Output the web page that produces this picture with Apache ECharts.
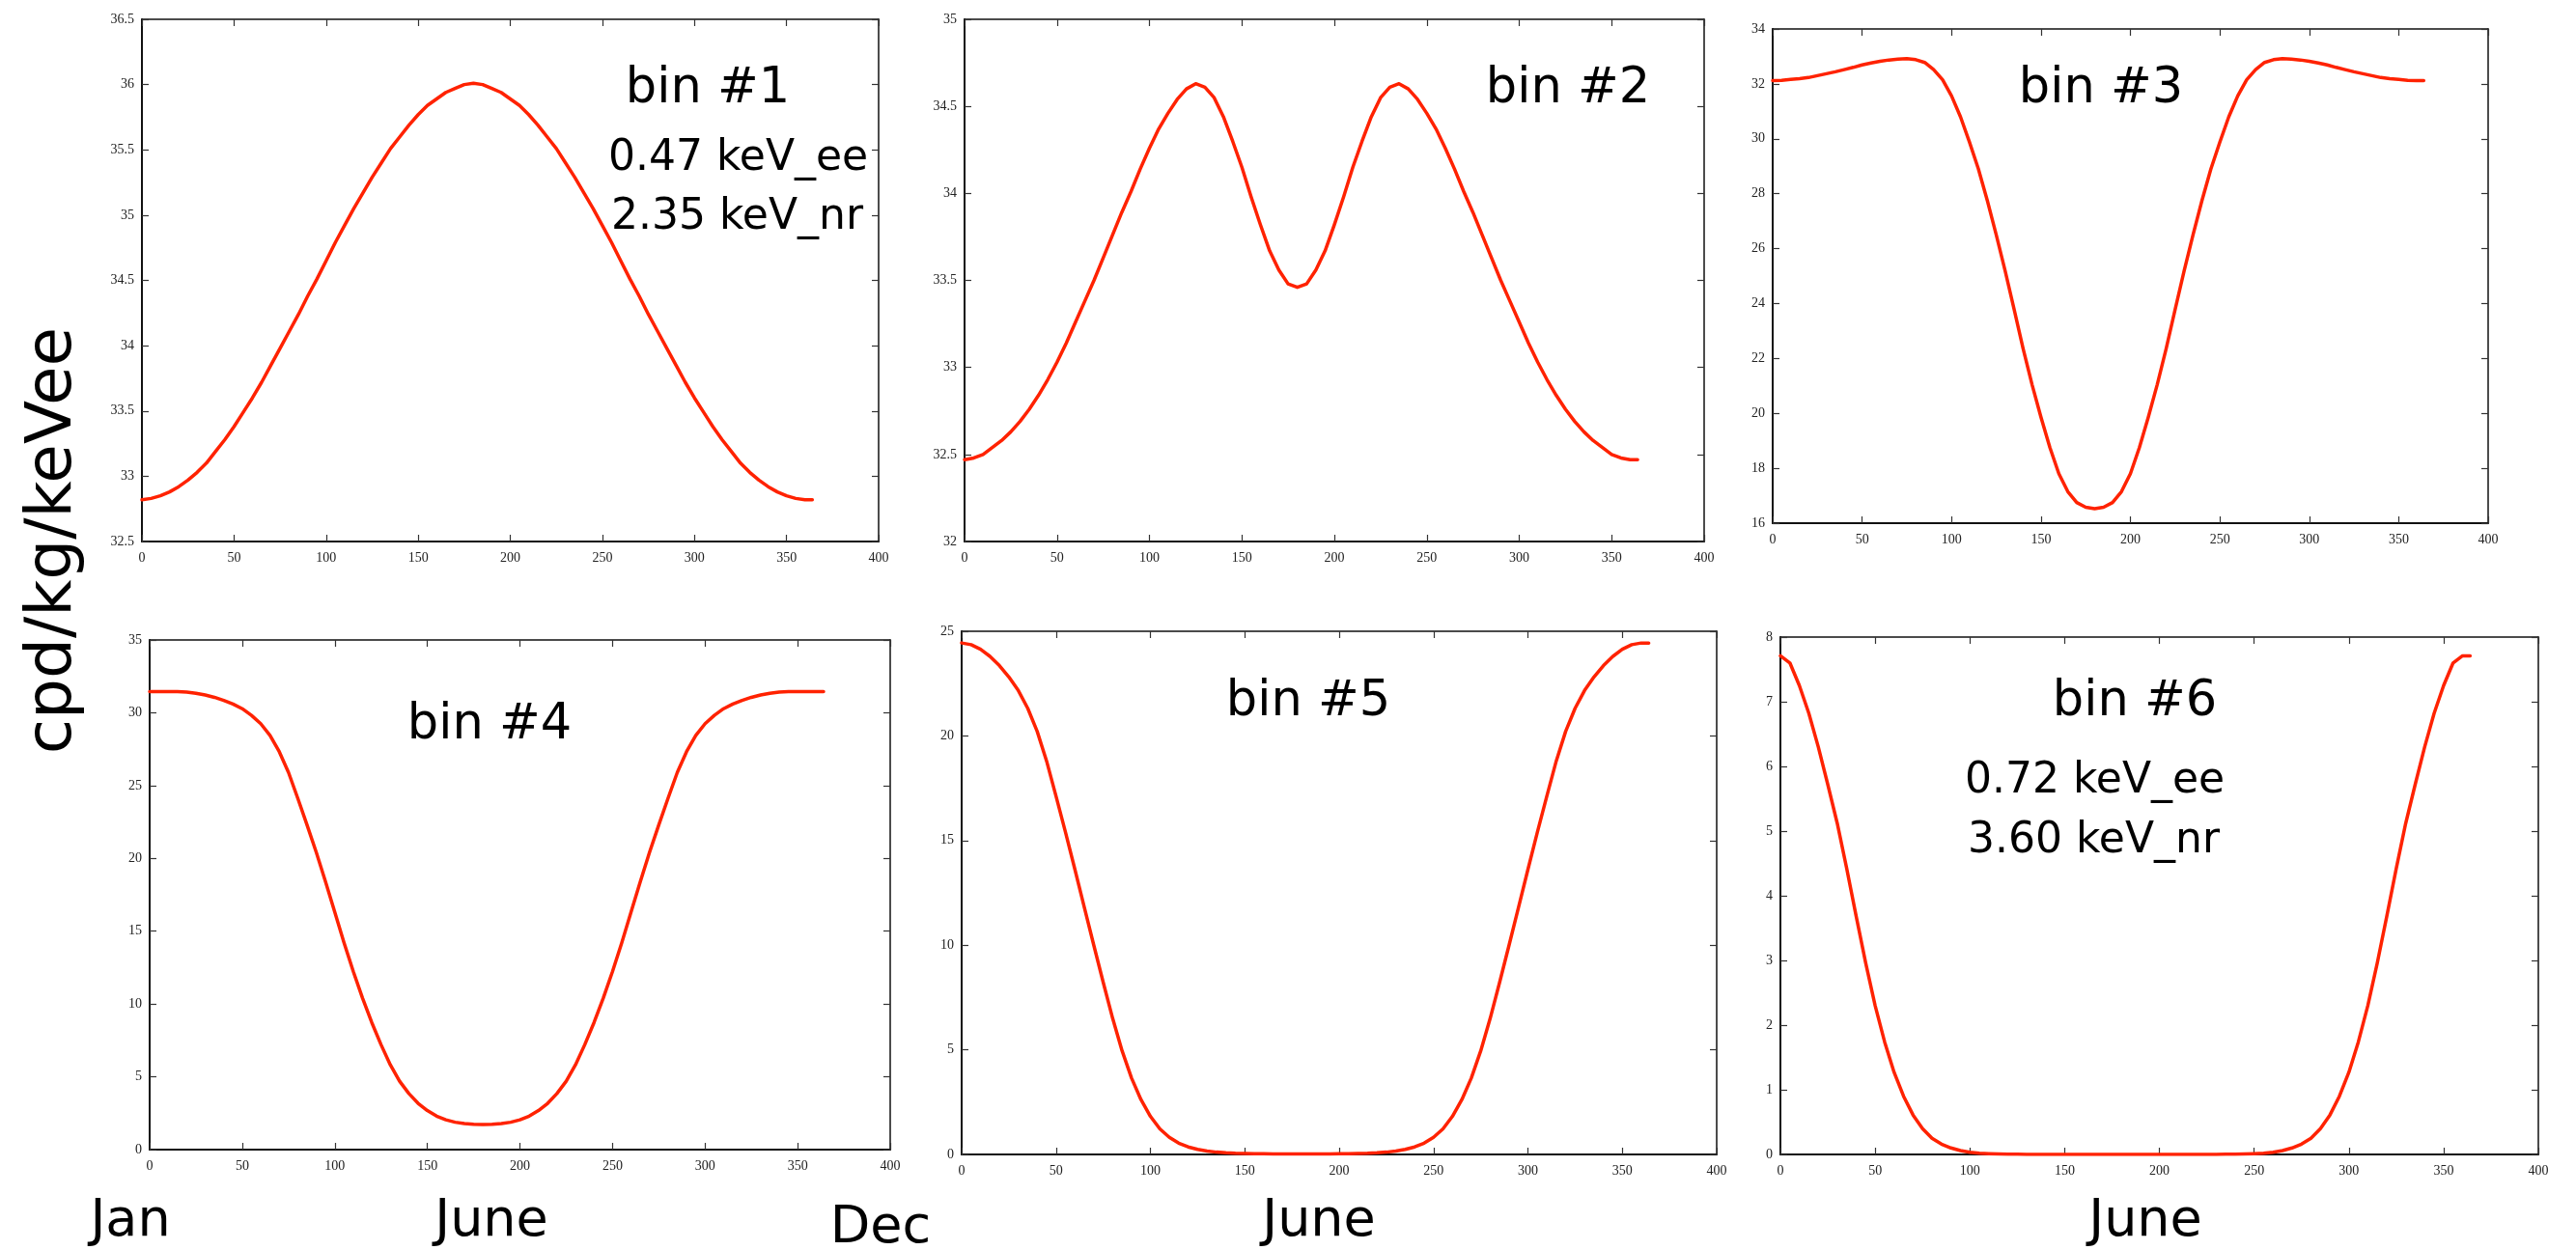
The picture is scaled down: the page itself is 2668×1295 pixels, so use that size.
<!DOCTYPE html>
<html>
<head>
<meta charset="utf-8">
<script src="https://cdn.jsdelivr.net/npm/echarts@6/dist/echarts.min.js"></script>
<style>
html,body{margin:0;padding:0;background:#ffffff;}
#chart{width:2668px;height:1295px;}
</style>
</head>
<body>
<div id="chart"></div>
<script>
// ---- data ----
const days = [0,5,10,15,20,25,30,35,40,45,50,55,60,65,70,75,80,85,90,95,100,105,110,115,120,125,130,135,140,145,150,155,160,165,170,175,180,
              185,190,195,200,205,210,215,220,225,230,235,240,245,250,255,260,265,270,275,280,285,290,295,300,305,310,315,320,325,330,335,340,345,350,355,360,364];

const bin1 = [32.82,32.83,32.85,32.88,32.92,32.97,33.03,33.10,33.19,33.28,33.38,33.49,33.60,33.72,33.85,33.98,34.11,34.24,34.38,34.51,34.65,34.79,34.92,35.05,35.17,35.29,35.40,35.51,35.60,35.69,35.77,35.84,35.89,35.94,35.97,36.00,36.01,
              36.00,35.97,35.94,35.89,35.84,35.77,35.69,35.60,35.51,35.40,35.29,35.17,35.05,34.92,34.79,34.65,34.51,34.38,34.24,34.11,33.98,33.85,33.72,33.60,33.49,33.38,33.28,33.19,33.10,33.03,32.97,32.92,32.88,32.85,32.83,32.82,32.82];

const bin2 = [32.47,32.48,32.50,32.54,32.58,32.63,32.69,32.76,32.84,32.93,33.03,33.14,33.26,33.38,33.50,33.63,33.76,33.89,34.01,34.14,34.26,34.37,34.46,34.54,34.60,34.63,34.61,34.55,34.44,34.30,34.15,33.98,33.82,33.67,33.56,33.48,33.46,
              33.48,33.56,33.67,33.82,33.98,34.15,34.30,34.44,34.55,34.61,34.63,34.60,34.54,34.46,34.37,34.26,34.14,34.01,33.89,33.76,33.63,33.50,33.38,33.26,33.14,33.03,32.93,32.84,32.76,32.69,32.63,32.58,32.54,32.50,32.48,32.47,32.47];

const bin3 = [32.12,32.13,32.16,32.19,32.23,32.30,32.37,32.44,32.52,32.60,32.69,32.76,32.82,32.87,32.90,32.92,32.88,32.78,32.52,32.15,31.56,30.80,29.88,28.90,27.75,26.50,25.18,23.78,22.36,21.05,19.86,18.75,17.80,17.15,16.75,16.58,16.53,
              16.58,16.75,17.15,17.80,18.75,19.86,21.05,22.36,23.78,25.18,26.50,27.75,28.90,29.88,30.80,31.56,32.15,32.52,32.78,32.88,32.92,32.90,32.87,32.82,32.76,32.69,32.60,32.52,32.44,32.37,32.30,32.23,32.19,32.16,32.13,32.12,32.12];

const bin4 = [31.45,31.45,31.45,31.45,31.42,31.34,31.22,31.06,30.85,30.60,30.28,29.82,29.25,28.45,27.33,25.90,24.13,22.30,20.42,18.40,16.30,14.20,12.23,10.40,8.72,7.20,5.82,4.70,3.85,3.18,2.68,2.30,2.05,1.88,1.79,1.74,1.73,
              1.74,1.79,1.88,2.05,2.30,2.68,3.18,3.85,4.70,5.82,7.20,8.72,10.40,12.23,14.20,16.30,18.40,20.42,22.30,24.13,25.90,27.33,28.45,29.25,29.82,30.28,30.60,30.85,31.06,31.22,31.34,31.42,31.45,31.45,31.45,31.45,31.45];

const bin5 = [24.44,24.36,24.14,23.80,23.36,22.82,22.17,21.32,20.22,18.80,17.12,15.40,13.62,11.80,10.00,8.22,6.50,4.95,3.65,2.62,1.82,1.22,0.82,0.54,0.36,0.24,0.16,0.11,0.08,0.06,0.05,0.04,0.03,0.025,0.02,0.02,0.02,
              0.02,0.02,0.025,0.03,0.04,0.05,0.06,0.08,0.11,0.16,0.24,0.36,0.54,0.82,1.22,1.82,2.62,3.65,4.95,6.50,8.22,10.00,11.80,13.62,15.40,17.12,18.80,20.22,21.32,22.17,22.82,23.36,23.80,24.14,24.36,24.44,24.44];

const bin6 = [7.71,7.60,7.25,6.82,6.30,5.72,5.12,4.42,3.68,2.96,2.30,1.74,1.27,0.90,0.61,0.40,0.25,0.16,0.10,0.06,0.035,0.02,0.012,0.007,0.004,0.002,0,0,0,0,0,0,0,0,0,0,0,
              0,0,0,0,0,0,0,0,0,0,0.002,0.004,0.007,0.012,0.02,0.035,0.06,0.10,0.16,0.25,0.40,0.61,0.90,1.27,1.74,2.30,2.96,3.68,4.42,5.12,5.72,6.30,6.82,7.25,7.60,7.71,7.71];

const seriesValues = [bin1, bin2, bin3, bin4, bin5, bin6];

// axis ranges: [min, max, interval]
const xRange = [0, 400, 50];
const yRanges = [[32.5, 36.5, 0.5], [32, 35, 0.5], [16, 34, 2], [0, 35, 5], [0, 25, 5], [0, 8, 1]];

// texts
const binLabels = ['bin #1', 'bin #2', 'bin #3', 'bin #4', 'bin #5', 'bin #6'];
const energyLabels1 = ['0.47 keV_ee', '2.35 keV_nr'];
const energyLabels6 = ['0.72 keV_ee', '3.60 keV_nr'];
const monthLabels = ['Jan', 'June', 'Dec', 'June', 'June'];
const yTitle = 'cpd/kg/keVee';

// ---- layout ----
const grids = [
  {left: 147, top: 20, width: 763, height: 541},
  {left: 999, top: 20, width: 766, height: 541},
  {left: 1836, top: 30, width: 741, height: 512},
  {left: 155, top: 663, width: 767, height: 528},
  {left: 996, top: 654, width: 782, height: 542},
  {left: 1844, top: 660, width: 785, height: 536}
];

const RED = '#ff2200';
const labelFont = {fontFamily: '"Liberation Serif", "DejaVu Serif", serif', fontSize: 14, color: '#222'};
const bigFont = '"DejaVu Sans", "Open Sans", sans-serif';

const xAxes = [], yAxes = [], series = [];
grids.forEach((g, i) => {
  const yr = yRanges[i];
  xAxes.push({
    type: 'value', gridIndex: i, position: 'bottom',
    min: xRange[0], max: xRange[1], interval: xRange[2],
    axisLine: {show: true, onZero: false, lineStyle: {color: '#111', width: 2}},
    axisTick: {show: true, inside: true, length: 7, lineStyle: {color: '#333', width: 1.2}},
    axisLabel: Object.assign({show: true, margin: 10}, labelFont),
    splitLine: {show: false}
  });
  xAxes.push({
    type: 'value', gridIndex: i, position: 'top',
    min: xRange[0], max: xRange[1], interval: xRange[2],
    axisLine: {show: true, onZero: false, lineStyle: {color: '#111', width: 1.5}},
    axisTick: {show: true, inside: true, length: 7, lineStyle: {color: '#333', width: 1.2}},
    axisLabel: {show: false},
    splitLine: {show: false}
  });
  yAxes.push({
    type: 'value', gridIndex: i, position: 'left',
    min: yr[0], max: yr[1], interval: yr[2],
    axisLine: {show: true, onZero: false, lineStyle: {color: '#111', width: 2}},
    axisTick: {show: true, inside: true, length: 7, lineStyle: {color: '#333', width: 1.2}},
    axisLabel: Object.assign({show: true, margin: 8}, labelFont),
    splitLine: {show: false}
  });
  yAxes.push({
    type: 'value', gridIndex: i, position: 'right',
    min: yr[0], max: yr[1], interval: yr[2],
    axisLine: {show: true, onZero: false, lineStyle: {color: '#111', width: 1.5}},
    axisTick: {show: true, inside: true, length: 7, lineStyle: {color: '#333', width: 1.2}},
    axisLabel: {show: false},
    splitLine: {show: false}
  });
  series.push({
    type: 'line',
    xAxisIndex: 2 * i, yAxisIndex: 2 * i,
    data: days.map((d, k) => [d, seriesValues[i][k]]),
    showSymbol: false, smooth: false,
    lineStyle: {color: RED, width: 3.5, join: 'round', cap: 'round'},
    itemStyle: {color: RED},
    silent: true
  });
});

function txt(text, x, y, size, align, rot) {
  return {
    type: 'text', x: x, y: y, rotation: rot || 0, silent: true,
    style: {text: text, fontSize: size, fontFamily: bigFont, fill: '#000',
            align: align || 'center', verticalAlign: 'middle',
            textAlign: align || 'center', textVerticalAlign: 'middle'}
  };
}

const graphics = [
  txt(binLabels[0], 733, 93, 51),
  txt(energyLabels1[0], 630, 165, 44, 'left'),
  txt(energyLabels1[1], 633, 226, 44, 'left'),
  txt(binLabels[1], 1624, 93, 51),
  txt(binLabels[2], 2176, 93, 51),
  txt(binLabels[3], 507, 752, 51),
  txt(binLabels[4], 1355, 728, 51),
  txt(binLabels[5], 2211, 728, 51),
  txt(energyLabels6[0], 2035, 810, 44, 'left'),
  txt(energyLabels6[1], 2038, 872, 44, 'left'),
  txt(monthLabels[0], 135, 1266, 54),
  txt(monthLabels[1], 509, 1266, 54),
  txt(monthLabels[2], 912, 1273, 54),
  txt(monthLabels[3], 1366, 1266, 54),
  txt(monthLabels[4], 2222, 1266, 54),
  txt(yTitle, 56, 560, 66, 'center', Math.PI / 2)
];

const chart = echarts.init(document.getElementById('chart'), null, {renderer: 'canvas'});
chart.setOption({
  animation: false,
  backgroundColor: '#ffffff',
  grid: grids.map(g => Object.assign({containLabel: false}, g)),
  xAxis: xAxes,
  yAxis: yAxes,
  series: series,
  graphic: graphics
});
</script>
</body>
</html>
